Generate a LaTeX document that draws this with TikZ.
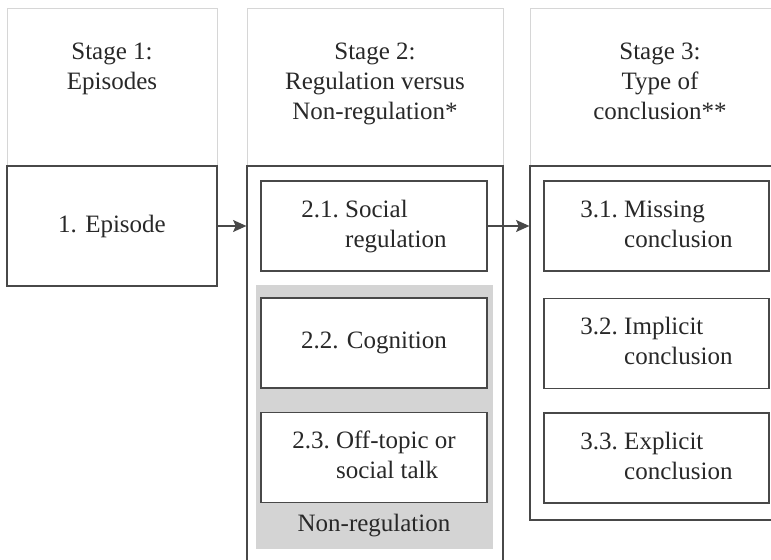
\documentclass[tikz,border=0pt]{standalone}
\usepackage{fontspec}
\setmainfont{Liberation Serif}
\usetikzlibrary{arrows.meta,calc}

\definecolor{headline}{RGB}{214,214,214}
\definecolor{boxline}{RGB}{72,72,72}
\definecolor{nonregfill}{RGB}{212,212,212}
\definecolor{ink}{RGB}{40,40,40}

\newcommand{\hang}[2]{\begin{tabular}{@{}l@{\ }l@{}}#1 & #2\end{tabular}}

\begin{document}
\begin{tikzpicture}[x=0.75pt, y=-0.75pt, >={Stealth[length=10pt,width=9pt,inset=2pt]}, semithick,
	font=\fontsize{18.75}{22.5}\selectfont, text=ink]
	\tikzstyle{headbox}=[draw=headline,line width=0.75pt,minimum height=117.75pt,inner sep=0pt]
	\tikzstyle{stagebox}=[draw=boxline,line width=0.9pt,inner sep=0pt]
	\tikzstyle{catbox}=[stagebox,fill=white,minimum height=67.5pt]
	\tikzstyle{headtext}=[anchor=north,align=center,inner sep=0pt]
	\useasboundingbox (0,0) rectangle (771,560);

	% stage headers
	\node[headbox,minimum width=157.5pt] (head1) at (112,87.5) {};
	\node[headbox,minimum width=192pt]   (head2) at (375,87.5) {};
	\node[headbox,minimum width=195pt]   (head3) at (660,87.5) {};
	\node[headtext] (title1) at ($(head1.north)+(0,34)$) {Stage 1:\\Episodes};
	\node[headtext] (title2) at ($(head2.north)+(0,34)$) {Stage 2:\\Regulation versus\\Non-regulation*};
	\node[headtext] (title3) at ($(head3.north)+(0,34)$) {Stage 3:\\Type of\\conclusion**};

	% stage contents
	\node[stagebox,minimum width=157.5pt,minimum height=90pt] (ep) at (112,226) {1. Episode};
	\node[stagebox,minimum width=192pt,minimum height=303pt]  (stage2) at (375,368) {};
	\node[stagebox,minimum width=195pt,minimum height=265.5pt] (stage3) at (660,343) {};

	\node[catbox,minimum width=169.5pt] (reg) at (374,226) {\hang{2.1.}{Social\\ & regulation}};
	\node[fill=nonregfill,minimum width=177.75pt,minimum height=198pt,inner sep=0pt] (nonreg) at (374.5,417) {};
	\node[inner sep=0pt] (nonreglabel) at (374,526) {Non-regulation};
	\node[catbox,minimum width=169.5pt] (cog) at (374,343) {2.2. Cognition};
	\node[catbox,minimum width=169.5pt] (off) at (374,457.5) {\hang{2.3.}{Off-topic or\\ & social talk}};

	\node[catbox,minimum width=168.75pt] (miss) at (656.5,226) {\hang{3.1.}{Missing\\ & conclusion}};
	\node[catbox,minimum width=168.75pt] (impl) at (656.5,343.5) {\hang{3.2.}{Implicit\\ & conclusion}};
	\node[catbox,minimum width=168.75pt] (expl) at (656.5,458) {\hang{3.3.}{Explicit\\ & conclusion}};

	\draw[->,draw=boxline,line width=0.9pt] (ep.east) -- (ep.east -| stage2.west);
	\draw[->,draw=boxline,line width=0.9pt] (reg.east) -- (reg.east -| stage3.west);
\end{tikzpicture}
\end{document}
